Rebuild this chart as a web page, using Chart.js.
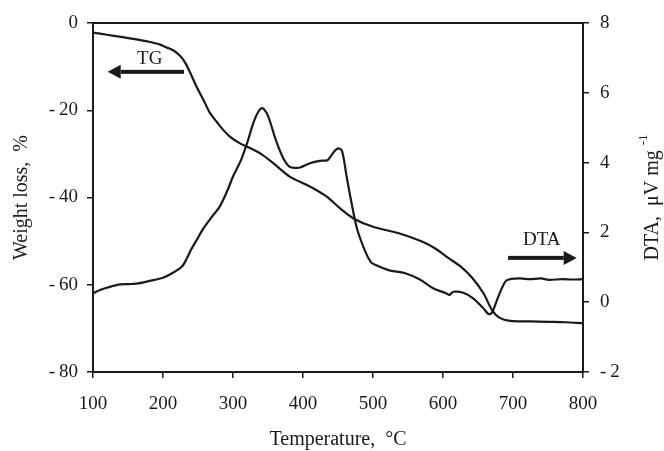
<!DOCTYPE html>
<html>
<head>
<meta charset="utf-8">
<script src="https://cdn.jsdelivr.net/npm/chart.js@4/dist/chart.umd.min.js"></script>
<style>
html,body{margin:0;padding:0;background:#fff;}
#wrap{width:664px;height:451px;}
</style>
</head>
<body>
<div id="wrap"><canvas id="c" width="664" height="451"></canvas></div>
<script>
// ---- data ----
const tgTemp   = [100,120,140,160,180,195,205,215,225,232,240,248,258,267,277,286,296,310,325,339,358,381,405,420,434,453,472,500,537,570,590,608,625,641,658,670,681,696,724,750,775,800];
const tgWeight = [-2.2,-2.7,-3.2,-3.7,-4.3,-4.9,-5.6,-6.3,-7.6,-9.2,-11.8,-14.6,-17.7,-20.6,-22.7,-24.5,-26.1,-27.6,-28.7,-29.9,-32.2,-35.2,-37.1,-38.4,-39.8,-42.5,-44.8,-46.7,-48.2,-50.1,-51.8,-53.9,-55.8,-58.3,-62.0,-65.8,-67.6,-68.3,-68.4,-68.5,-68.6,-68.8];

const dtaTemp  = [100,110,124,139,150,162,181,200,215,227,234,240,248,258,270,281,292,300,305,312,320,329,336,342,348,353,362,372,381,390,396,410,424,435,441,446,451,456,462,469,477,489,497,503,522,546,567,586,605,609,615,629,643,658,665,670,679,689,696,710,724,740,751,770,785,800];
const dtaValue = [0.25,0.35,0.44,0.51,0.52,0.53,0.61,0.70,0.85,1.02,1.25,1.50,1.78,2.12,2.45,2.74,3.20,3.60,3.80,4.10,4.55,5.13,5.45,5.56,5.42,5.17,4.60,4.12,3.88,3.85,3.86,3.98,4.05,4.07,4.22,4.35,4.41,4.32,3.64,2.88,2.12,1.45,1.15,1.07,0.92,0.83,0.65,0.40,0.25,0.21,0.30,0.27,0.11,-0.18,-0.34,-0.30,0.16,0.59,0.66,0.68,0.66,0.68,0.64,0.66,0.65,0.66];

const xTicks  = [100,200,300,400,500,600,700,800];
const yTicks  = [-80,-60,-40,-20,0];
const y2Ticks = [-2,0,2,4,6,8];

const xTitle  = 'Temperature,  °C';
const yTitle  = 'Weight loss,  %';
const y2Title = 'DTA,  μV mg';
const y2Sup   = '-1';

// annotation anchors (data units)
const tgLabel  = {text:'TG',  x:181, y:-8.3, from:230, to:121, at:-11.2};
const dtaLabel = {text:'DTA', x:741, y:1.78, from:693, to:791, at:1.27};

const tgData  = tgTemp.map((t,i)=>({x:t,y:tgWeight[i]}));
const dtaData = dtaTemp.map((t,i)=>({x:t,y:dtaValue[i]}));

const SERIF = '"Liberation Serif","Times New Roman",serif';
const INK = '#1a1a1a';

function fmt(v){ return v < 0 ? '-\u2009' + Math.abs(v) : String(v); }

function arrow(ctx, x0, x1, y, dir){
  const headLen = 13, half = 7, shaft = 4;
  ctx.save();
  ctx.fillStyle = INK;
  const tip = x1;
  const base = x1 - dir*headLen;
  ctx.fillRect(Math.min(x0, base), y - shaft/2, Math.abs(base - x0), shaft);
  ctx.beginPath();
  ctx.moveTo(tip, y);
  ctx.lineTo(base, y - half);
  ctx.lineTo(base, y + half);
  ctx.closePath();
  ctx.fill();
  ctx.restore();
}

const decor = {
  id:'decor',
  afterDatasetsDraw(chart){
    const {ctx, chartArea:a, scales} = chart;
    const sx = scales.x, sy = scales.y, sy2 = scales.y2;
    // frame
    ctx.save();
    ctx.strokeStyle = INK; ctx.lineWidth = 2;
    ctx.strokeRect(a.left, a.top, a.right - a.left, a.bottom - a.top);
    ctx.restore();
    // annotations
    ctx.save();
    ctx.fillStyle = INK;
    ctx.font = '19px ' + SERIF;
    ctx.textAlign = 'center'; ctx.textBaseline = 'middle';
    ctx.fillText(tgLabel.text, sx.getPixelForValue(tgLabel.x), sy.getPixelForValue(tgLabel.y));
    ctx.fillText(dtaLabel.text, sx.getPixelForValue(dtaLabel.x), sy2.getPixelForValue(dtaLabel.y));
    ctx.restore();
    arrow(ctx, sx.getPixelForValue(tgLabel.from), sx.getPixelForValue(tgLabel.to), sy.getPixelForValue(tgLabel.at), -1);
    arrow(ctx, sx.getPixelForValue(dtaLabel.from), sx.getPixelForValue(dtaLabel.to), sy2.getPixelForValue(dtaLabel.at), 1);
    // axis titles
    ctx.save();
    ctx.fillStyle = INK;
    ctx.font = '20px ' + SERIF;
    ctx.textAlign = 'center'; ctx.textBaseline = 'middle';
    const cx = (a.left + a.right)/2, cy = (a.top + a.bottom)/2;
    ctx.fillText(xTitle, cx, 440);
    ctx.save();
    ctx.translate(22, cy); ctx.rotate(-Math.PI/2);
    ctx.fillText(yTitle, 0, 0);
    ctx.restore();
    ctx.save();
    ctx.translate(653, cy); ctx.rotate(-Math.PI/2);
    const w1 = ctx.measureText(y2Title).width;
    ctx.font = '13px ' + SERIF;
    const w2 = ctx.measureText(y2Sup).width;
    const gap = 5;
    const total = w1 + gap + w2;
    ctx.textAlign = 'left';
    ctx.font = '20px ' + SERIF;
    ctx.fillText(y2Title, -total/2, 0);
    ctx.font = '13px ' + SERIF;
    ctx.fillText(y2Sup, -total/2 + w1 + gap, -9);
    ctx.restore();
    ctx.restore();
  }
};

const tickFont = {family: SERIF, size: 19};

new Chart(document.getElementById('c'), {
  type:'line',
  data:{
    datasets:[
      {label:'TG', data:tgData, yAxisID:'y', borderColor:INK, borderWidth:2.2, pointRadius:0, tension:0.3, fill:false},
      {label:'DTA', data:dtaData, yAxisID:'y2', borderColor:INK, borderWidth:2.2, pointRadius:0, tension:0.3, fill:false}
    ]
  },
  options:{
    responsive:false,
    animation:false,
    layout:{padding:{top:23,left:0,right:0,bottom:0}},
    plugins:{legend:{display:false}, tooltip:{enabled:false}},
    scales:{
      x:{
        type:'linear', min:100, max:800,
        afterBuildTicks: s => { s.ticks = xTicks.map(v=>({value:v})); },
        afterFit: s => { s.height = 79; },
        grid:{drawOnChartArea:false, tickLength:6, color:INK, lineWidth:1.5},
        border:{color:INK, width:2},
        ticks:{font:tickFont, color:INK, padding:15, maxRotation:0, callback:v=>String(v)}
      },
      y:{
        type:'linear', position:'left', min:-80, max:0,
        afterBuildTicks: s => { s.ticks = yTicks.map(v=>({value:v})); },
        afterFit: s => { s.width = 93; },
        grid:{drawOnChartArea:false, tickLength:6, color:INK, lineWidth:1.5},
        border:{color:INK, width:2},
        ticks:{font:tickFont, color:INK, padding:9, callback:v=>fmt(v)}
      },
      y2:{
        type:'linear', position:'right', min:-2, max:8,
        afterBuildTicks: s => { s.ticks = y2Ticks.map(v=>({value:v})); },
        afterFit: s => { s.width = 81; },
        grid:{drawOnChartArea:false, tickLength:6, color:INK, lineWidth:1.5},
        border:{color:INK, width:2},
        ticks:{font:tickFont, color:INK, padding:11, callback:v=>fmt(v)}
      }
    }
  },
  plugins:[decor]
});
</script>
</body>
</html>
